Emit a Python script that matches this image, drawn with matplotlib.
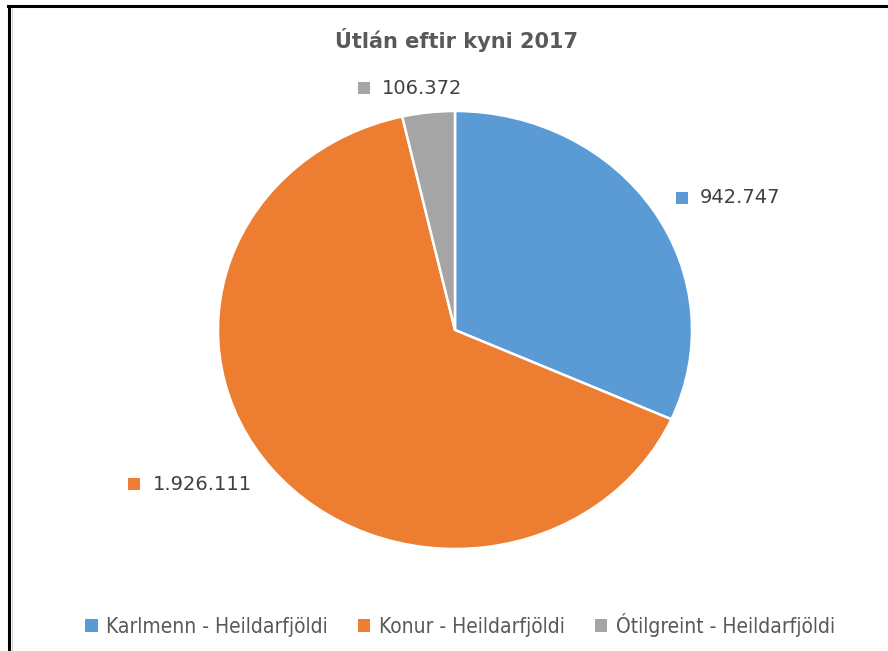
import numpy as np
import matplotlib.pyplot as plt
from matplotlib.lines import Line2D
from matplotlib.patches import Patch, Rectangle
from matplotlib.offsetbox import AnnotationBbox, HPacker, DrawingArea, TextArea

# data
categories = ['Karlmenn - Heildarfjöldi', 'Konur - Heildarfjöldi', 'Ótilgreint - Heildarfjöldi']
values = [942747, 1926111, 106372]
value_labels = ['942.747', '1.926.111', '106.372']
colors = ['#5B9BD5', '#ED7D31', '#A5A5A5']

W, H = 888, 651
fig = plt.figure(figsize=(W / 100, H / 100), dpi=100)
ax = fig.add_axes([0, 0, 1, 1])

wedges, _ = ax.pie(values, colors=colors, startangle=90, counterclock=False,
                   wedgeprops=dict(edgecolor='white', linewidth=1.8))

# pie is a bit wider than tall in the reference (center 455,330; rx 237, ry 219 px)
cx, cy, rx, ry = 455, H - 330, 237, 219
ax.set_aspect('auto')
ax.set_xlim(-cx / rx, (W - cx) / rx)
ax.set_ylim(-cy / ry, (H - cy) / ry)
ax.axis('off')

# data labels with small coloured squares
txt_color = '#404040'
for w, lab, col in zip(wedges, value_labels, colors):
    mid = np.deg2rad((w.theta1 + w.theta2) / 2)
    x, y = 1.11 * np.cos(mid), 1.11 * np.sin(mid)
    bx = float(np.clip(0.5 - 1.3 * np.cos(mid), 0, 1))
    da = DrawingArea(8.6, 8.6, 0, 0)
    da.add_artist(Rectangle((0, 0), 8.6, 8.6, fc=col, ec='none'))
    ta = TextArea(lab, textprops=dict(color=txt_color, fontsize=14, family='DejaVu Sans'))
    box = HPacker(children=[da, ta], sep=9, align='center', pad=0)
    ab = AnnotationBbox(box, (x, y), xycoords='data', frameon=False,
                        box_alignment=(bx, 0.5), pad=0)
    ax.add_artist(ab)

fig.text(0.514, 1 - 40 / H, 'Útlán eftir kyni 2017', ha='center', va='center',
         fontsize=15, fontweight='bold', color='#595959', family='DejaVu Sans')

handles = [Patch(facecolor=c, edgecolor='none') for c in colors]
fig.legend(handles, categories, loc='center', bbox_to_anchor=(0.518, 26 / H),
           ncol=3, frameon=False, handlelength=0.6, handleheight=0.6,
           handletextpad=0.4, columnspacing=1.45,
           prop=dict(family='DejaVu Sans', size=15, stretch='condensed'),
           labelcolor='#595959')

# screenshot frame
fig.add_artist(Line2D([8 / W, 1], [1 - 6 / H, 1 - 6 / H], color='black', lw=2.2,
                      transform=fig.transFigure))
fig.add_artist(Line2D([9 / W, 9 / W], [0, 1 - 6 / H], color='black', lw=2.2,
                      transform=fig.transFigure))
fig.add_artist(Line2D([11.5 / W, 11.5 / W], [0, 1 - 8 / H], color='#D0D0D0', lw=0.8,
                      transform=fig.transFigure))

fig.savefig('out.png', dpi=100)
